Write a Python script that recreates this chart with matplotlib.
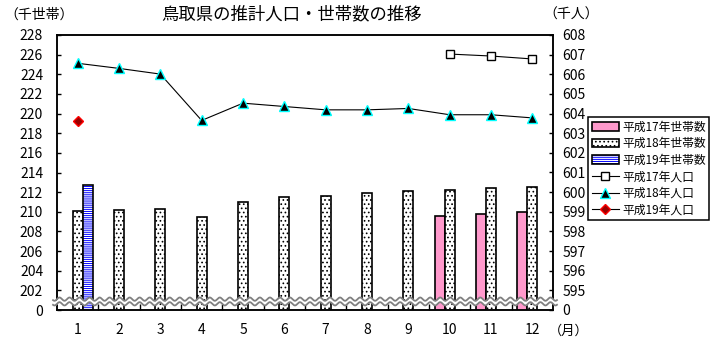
import numpy as np
import matplotlib.pyplot as plt
from matplotlib.patches import Patch
from matplotlib.lines import Line2D
from matplotlib.legend_handler import HandlerTuple

plt.rcParams['font.family'] = ['Noto Sans CJK JP', 'DejaVu Sans']
plt.rcParams['hatch.linewidth'] = 0.7

months = np.arange(1, 13)
month_labels = [str(m) for m in months]

# 世帯数 (千世帯)
hh_h17_months = [10, 11, 12]
hh_h17 = [209.56, 209.77, 209.97]
hh_h18 = [210.07, 210.17, 210.31, 209.46, 210.99, 211.50,
          211.60, 211.90, 212.11, 212.20, 212.40, 212.55]
hh_h19_months = [1]
hh_h19 = [212.68]

# 人口 (千人)
pop_h17_months = [10, 11, 12]
pop_h17 = [607.03, 606.93, 606.78]
pop_h18 = [606.56, 606.30, 606.01, 603.65, 604.53, 604.36,
           604.19, 604.19, 604.26, 603.94, 603.94, 603.78]
pop_h19_months = [1]
pop_h19 = [603.63]

left_ticks = list(range(200, 229, 2))
right_ticks = list(range(594, 609))

w = 0.242
pink = '#FF99CC'

fig = plt.figure(figsize=(7.2, 3.4), dpi=100)
ax = fig.add_axes([57 / 720, 1 - 310 / 340, 496 / 720, 275 / 340])
ax2 = ax.twinx()

# bars
ax.bar(np.array(hh_h17_months) - w, hh_h17, w, color=pink,
       edgecolor='black', linewidth=1.2)
ax.bar(months, hh_h18, w, color='white', edgecolor='black',
       linewidth=1.2, hatch='....')
ax.bar(np.array(hh_h19_months) + w, hh_h19, w, color='white',
       edgecolor='blue', linewidth=0, hatch='--------')
ax.bar(np.array(hh_h19_months) + w, hh_h19, w, fill=False,
       edgecolor='black', linewidth=1.2)

# population lines
ax2.plot(pop_h17_months, pop_h17, color='black', lw=0.8, marker='s',
         ms=6, mfc='white', mec='black', mew=1)
ax2.plot(months, pop_h18, color='black', lw=0.8, marker='^',
         ms=7, mfc='black', mec='cyan', mew=1)
ax2.plot(pop_h19_months, pop_h19, color='black', lw=0.8, marker='D',
         ms=5.5, mfc='#990000', mec='red', mew=1, ls='none')

ax.set_xlim(0.5, 12.5)
ax.set_ylim(200, 228)
ax2.set_ylim(594, 608)
ax.set_yticks(left_ticks)
ax.set_yticklabels(['0'] + [str(v) for v in left_ticks[1:]])
ax2.set_yticks(right_ticks)
ax2.set_yticklabels(['0'] + [str(v) for v in right_ticks[1:]])
ax.set_xticks(months)
ax.set_xticklabels(month_labels)
ax.set_xticks(np.arange(1.5, 12.5, 1), minor=True)

ax.tick_params(axis='x', which='major', length=0, pad=9, labelsize=10)
ax.tick_params(axis='x', which='minor', direction='in', length=4, width=1)
ax.tick_params(axis='y', direction='in', length=3, width=1, pad=10, labelsize=10)
ax2.tick_params(axis='y', direction='in', length=3, width=1, pad=7, labelsize=10)
for a in (ax, ax2):
    for s in a.spines.values():
        s.set_linewidth(1.1)

# wavy break across the bottom
xs = np.linspace(-0.008, 1.008, 800)
wave = 0.006 * np.sin(2 * np.pi * xs / 0.0202)
top = 0.0395 + wave
bot = 0.0225 + wave
ax2.fill_between(xs, bot, top, transform=ax2.transAxes, color='white',
                 clip_on=False, zorder=10, lw=0)
ax2.plot(xs, top, transform=ax2.transAxes, color='#808080', lw=1.3,
         clip_on=False, zorder=11)
ax2.plot(xs, bot, transform=ax2.transAxes, color='#808080', lw=1.3,
         clip_on=False, zorder=11)

fig.text(292 / 720, 1 - 14 / 340, '鳥取県の推計人口・世帯数の推移',
         ha='center', va='center', fontsize=12.5)
fig.text(4 / 720, 1 - 15 / 340, '（千世帯）', ha='left', va='center', fontsize=10)
fig.text(571 / 720, 1 - 15 / 340, '（千人）', ha='center', va='center', fontsize=10)
fig.text(569 / 720, 1 - 331 / 340, '（月）', ha='center', va='center', fontsize=9.5)

handles = [
    Patch(facecolor=pink, edgecolor='black', lw=1.2),
    Patch(facecolor='white', edgecolor='black', lw=1.2, hatch='....'),
    (Patch(facecolor='white', edgecolor='blue', lw=0, hatch='--------'),
     Patch(fill=False, edgecolor='black', lw=1.2)),
    Line2D([], [], color='black', lw=0.8, marker='s', ms=6, mfc='white', mec='black'),
    Line2D([], [], color='black', lw=0.8, marker='^', ms=7, mfc='black', mec='cyan'),
    Line2D([], [], color='black', lw=0.8, marker='D', ms=5.5, mfc='#990000', mec='red'),
]
labels = ['平成17年世帯数', '平成18年世帯数', '平成19年世帯数',
          '平成17年人口', '平成18年人口', '平成19年人口']
leg = fig.legend(handles, labels, loc='upper left',
                 bbox_to_anchor=(588 / 720, 1 - 117 / 340),
                 handler_map={tuple: HandlerTuple(ndivide=1)},
                 fontsize=8.5, frameon=True, fancybox=False,
                 edgecolor='black', framealpha=1, borderpad=0.3,
                 labelspacing=0.3, handlelength=2.3, handletextpad=0.3,
                 borderaxespad=0)
leg.get_frame().set_linewidth(1.1)

fig.savefig('out.png', dpi=100)
